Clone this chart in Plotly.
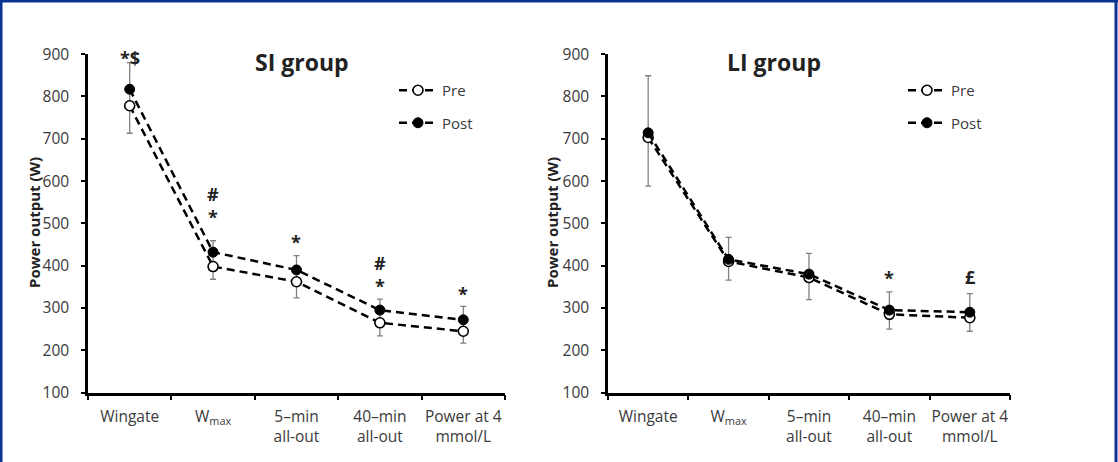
import plotly.graph_objects as go

# ---------------- data ----------------
categories = ["Wingate", "W<sub>max</sub>", "5–min<br>all-out", "40–min<br>all-out", "Power at 4<br>mmol/L"]

si_pre = [778, 398, 362, 265, 245]
si_post = [817, 432, 390, 295, 272]
si_pre_sd = [65, 30, 38, 31, 28]
si_post_sd = [63, 27, 34, 26, 32]

li_pre = [703, 410, 372, 285, 277]
li_post = [714, 415, 380, 295, 290]
li_pre_sd = [115, 44, 52, 35, 32]
li_post_sd = [135, 52, 49, 43, 44]

# significance labels: (category index, text, pixel shift of label above the error-bar top)
si_marks = [(0, "*$", 5), (1, "#<br>*", 35), (2, "*", 14), (3, "#<br>*", 25), (4, "*", 12)]
li_marks = [(3, "*", 14), (4, "£", 17)]

FONT = "Open Sans"
TXT = "#3a3a3a"
DASH = "8px,5px"

fig = go.Figure()

panels = [
    dict(pre=si_pre, post=si_post, pre_sd=si_pre_sd, post_sd=si_post_sd, xa="x", ya="y",
         legend="legend", marks=si_marks),
    dict(pre=li_pre, post=li_post, pre_sd=li_pre_sd, post_sd=li_post_sd, xa="x2", ya="y2",
         legend="legend2", marks=li_marks),
]

for i, p in enumerate(panels):
    # error bars underneath everything: Pre downward, Post upward (and down to Pre)
    fig.add_trace(go.Scatter(
        x=categories, y=p["pre"], mode="markers", xaxis=p["xa"], yaxis=p["ya"],
        marker=dict(size=2, color="rgba(0,0,0,0)"),
        error_y=dict(type="data", symmetric=False, array=[0] * len(p["pre"]), arrayminus=p["pre_sd"],
                     visible=True, color="#808080", thickness=1.3, width=3),
        showlegend=False, hoverinfo="skip"))
    fig.add_trace(go.Scatter(
        x=categories, y=p["post"], mode="markers", xaxis=p["xa"], yaxis=p["ya"],
        marker=dict(size=2, color="rgba(0,0,0,0)"),
        error_y=dict(type="data", symmetric=False, array=p["post_sd"],
                     arrayminus=[max(a - b, 0) for a, b in zip(p["post"], p["pre"])],
                     visible=True, color="#808080", thickness=1.3, width=3),
        showlegend=False, hoverinfo="skip"))
    fig.add_trace(go.Scatter(
        x=categories, y=p["pre"], mode="lines+markers", name="Pre", xaxis=p["xa"], yaxis=p["ya"],
        line=dict(color="black", width=2.5, dash=DASH),
        marker=dict(symbol="circle", size=10, color="white", line=dict(color="black", width=1.6)),
        legend=p["legend"], legendgroup=f"pre{i}"))
    fig.add_trace(go.Scatter(
        x=categories, y=p["post"], mode="lines+markers", name="Post", xaxis=p["xa"], yaxis=p["ya"],
        line=dict(color="black", width=2.5, dash=DASH),
        marker=dict(symbol="circle", size=10, color="black", line=dict(color="black", width=1)),
        legend=p["legend"], legendgroup=f"post{i}"))

    for idx, text, shift in p["marks"]:
        fig.add_annotation(
            x=categories[idx], y=p["post"][idx] + p["post_sd"][idx], xref=p["xa"], yref=p["ya"],
            text=f"<b>{text}</b>", showarrow=False, yanchor="middle", yshift=shift,
            font=dict(family=FONT, size=18, color="#222"))

ydom = [0.1502, 0.8828]
axis_common = dict(showline=True, linecolor="black", linewidth=2.5, showgrid=False, zeroline=False,
                   ticks="outside", tickcolor="black", tickwidth=2, automargin=False)
xcommon = dict(type="category", range=[-0.5, 4.5], tickson="boundaries", tickangle=0,
               ticklen=5, ticklabelstandoff=8, tickfont=dict(size=15.5, color=TXT), **axis_common)
ycommon = dict(range=[100, 900], dtick=100, ticklen=4, ticklabelstandoff=9,
               tickfont=dict(size=15.5, color=TXT), **axis_common)
legcommon = dict(xanchor="left", yanchor="top", bgcolor="rgba(0,0,0,0)",
                 font=dict(size=15, color=TXT), tracegroupgap=10, itemwidth=38)

fig.update_layout(
    width=1118, height=462,
    margin=dict(l=0, r=0, t=0, b=0),
    paper_bgcolor="white", plot_bgcolor="white",
    font=dict(family=FONT, color=TXT),
    xaxis=dict(domain=[0.0787, 0.4517], anchor="y", **xcommon),
    yaxis=dict(domain=ydom, anchor="x", **ycommon),
    xaxis2=dict(domain=[0.5438, 0.9034], anchor="y2", **xcommon),
    yaxis2=dict(domain=ydom, anchor="x2", **ycommon),
    legend=dict(x=394 / 1118, y=1 - 74 / 462, **legcommon),
    legend2=dict(x=903 / 1118, y=1 - 74 / 462, **legcommon),
    showlegend=True,
)

# panel titles and y-axis titles
for xc, t in ((302, "SI group"), (774, "LI group")):
    fig.add_annotation(x=xc / 1118, y=1 - 62 / 462, xref="paper", yref="paper", text=f"<b>{t}</b>",
                       showarrow=False, xanchor="center", yanchor="middle",
                       font=dict(family=FONT, size=23, color="#222"))
for xc in (34, 552):
    fig.add_annotation(x=xc / 1118, y=1 - 223 / 462, xref="paper", yref="paper",
                       text="<b>Power output (W)</b>", textangle=-90, showarrow=False,
                       xanchor="center", yanchor="middle", font=dict(family=FONT, size=15, color="#222"))

# blue frame (left, top, right)
frame = "#0b3391"
fig.add_shape(type="line", xref="paper", yref="paper", x0=1 / 1118, x1=1 / 1118, y0=0, y1=1,
              line=dict(color=frame, width=3))
fig.add_shape(type="line", xref="paper", yref="paper", x0=0, x1=1, y0=1 - 1 / 462, y1=1 - 1 / 462,
              line=dict(color=frame, width=3))
fig.add_shape(type="line", xref="paper", yref="paper", x0=1116 / 1118, x1=1116 / 1118, y0=0, y1=1,
              line=dict(color=frame, width=3))

fig.write_html("out.html")
